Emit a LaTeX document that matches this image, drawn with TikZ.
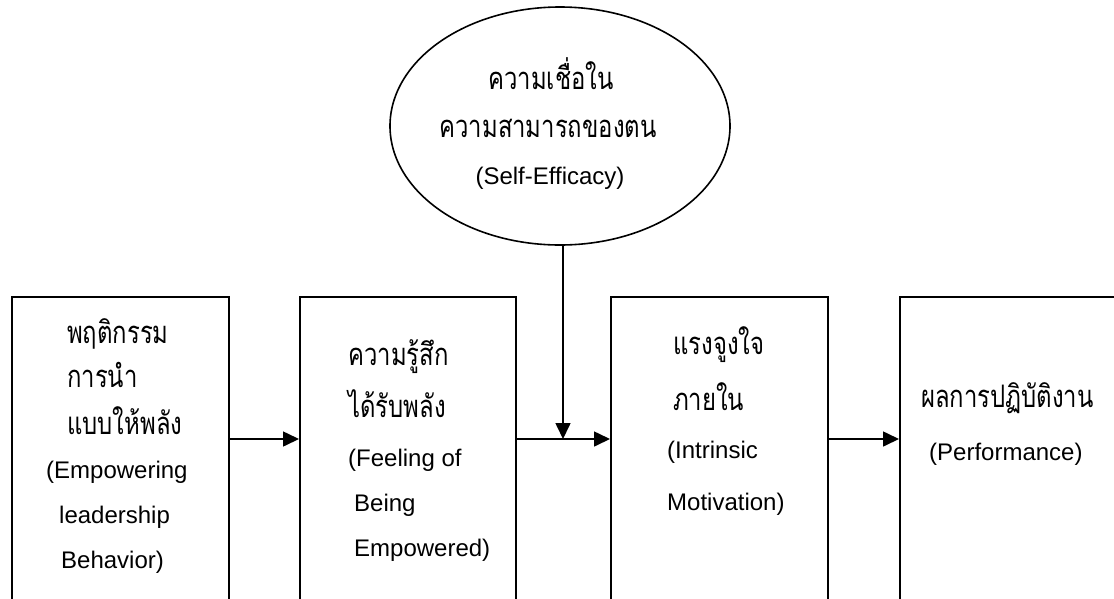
\documentclass[tikz,border=0pt]{standalone}
\usepackage{fontspec}
\setmainfont{Liberation Sans}
\newfontfamily\thaifont[Script=Thai, FakeStretch=0.77]{Loma}
\usetikzlibrary{shapes.geometric,arrows.meta}
\tikzset{
  boxnode/.style={draw, line width=1.6pt, rectangle, anchor=north west, inner sep=0pt},
  lat/.style={anchor=base west, inner sep=0pt, font=\fontsize{24}{28}\selectfont},
  tha/.style={anchor=base west, inner sep=0pt, font=\fontsize{31}{36}\selectfont\thaifont},
  elat/.style={anchor=base, inner sep=0pt, font=\fontsize{24}{28}\selectfont},
  etha/.style={anchor=base, inner sep=0pt, font=\fontsize{31}{36}\selectfont\thaifont},
  arr/.style={line width=1.6pt, -{Triangle[length=16pt,width=15pt]}},
}
\begin{document}
\begin{tikzpicture}[x=1pt,y=-1pt]
\clip (0,0) rectangle (1114,598);
\fill[white] (0,0) rectangle (1114,598);
% boxes
\node[boxnode, minimum width=217pt, minimum height=330pt] (b1) at (11,296) {};
\node[boxnode, minimum width=216pt, minimum height=330pt] (b2) at (299,296) {};
\node[boxnode, minimum width=217pt, minimum height=330pt] (b3) at (610,296) {};
\node[boxnode, minimum width=240pt, minimum height=330pt] (b4) at (899,296) {};
% ellipse
\node[draw, ellipse, line width=1.6pt, minimum width=340pt, minimum height=238pt, inner sep=0pt] (se) at (560,126) {};
% texts box 1
\node[tha] (t11) at (67,343) {พฤติกรรม};
\node[tha] (t12) at (67,387) {การนำ};
\node[tha] (t13) at (67,434) {แบบให้พลัง};
\node[lat] (t14) at (46,478) {(Empowering};
\node[lat] (t15) at (59,523) {leadership};
\node[lat] (t16) at (61,568) {Behavior)};
% box 2
\node[tha] (t21) at (348,365) {ความรู้สึก};
\node[tha] (t22) at (348,417) {ได้รับพลัง};
\node[lat] (t23) at (348,466) {(Feeling of};
\node[lat] (t24) at (354,511) {Being};
\node[lat] (t25) at (354,556) {Empowered)};
% box 3
\node[tha] (t31) at (673,354) {แรงจูงใจ};
\node[tha] (t32) at (673,410) {ภายใน};
\node[lat] (t33) at (667,458) {(Intrinsic};
\node[lat] (t34) at (667,510) {Motivation)};
% box 4
\node[tha] (t41) at (921,407) {ผลการปฏิบัติงาน};
\node[lat] (t42) at (929,460) {(Performance)};
% ellipse text
\node[etha] (e1) at (551,89) {ความเชื่อใน};
\node[etha] (e2) at (548,137) {ความสามารถของตน};
\node[elat] (e3) at (550,184) {(Self-Efficacy)};
% connectors
\coordinate (j) at (563,439);
\draw[arr] (b1.east |- j) -- (b2.west |- j);
\draw[line width=1.6pt] (b2.east |- j) -- (j);
\draw[arr] (j) -- (b3.west |- j);
\draw[arr] (j |- se.south) -- (j);
\draw[arr] (b3.east |- j) -- (b4.west |- j);
\end{tikzpicture}
\end{document}
